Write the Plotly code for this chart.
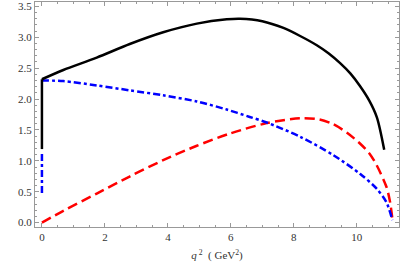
import plotly.graph_objects as go

# black solid curve (q^2, value); vertical piece at q^2 = 0 listed separately
black_vert_q2 = [0.0, 0.0]
black_vert_val = [1.19, 2.32]
black_q2 = [0.0, 0.68, 1.74, 2.79, 3.85, 4.92, 5.87, 6.29, 7.0, 7.67, 8.2, 8.73, 9.1, 9.47, 9.8, 10.1, 10.4, 10.64, 10.87]
black_val = [2.32, 2.47, 2.67, 2.89, 3.08, 3.22, 3.29, 3.30, 3.26, 3.15, 3.02, 2.87, 2.74, 2.58, 2.41, 2.21, 1.97, 1.70, 1.18]

# blue dash-dot curve; short vertical piece at q^2 = 0 listed separately
blue_vert_q2 = [0.0, 0.0]
blue_vert_val = [0.48, 1.16]
blue_q2 = [0.0, 0.68, 1.74, 2.79, 3.85, 4.92, 5.87, 6.6, 7.14, 8.2, 9.26, 10.1, 10.63, 10.94, 11.13]
blue_val = [2.30, 2.29, 2.22, 2.14, 2.06, 1.96, 1.83, 1.71, 1.62, 1.39, 1.09, 0.79, 0.55, 0.33, 0.04]

# red dashed curve
red_q2 = [0.0, 0.68, 1.74, 2.8, 3.85, 4.9, 5.96, 7.14, 8.2, 8.8, 9.26, 9.7, 10.1, 10.4, 10.63, 10.94, 11.05, 11.13]
red_val = [0.0, 0.19, 0.47, 0.75, 1.01, 1.24, 1.44, 1.61, 1.69, 1.67, 1.59, 1.45, 1.28, 1.12, 0.93, 0.58, 0.35, 0.06]

x_ticks = [0, 2, 4, 6, 8, 10]
y_ticks = [0.0, 0.5, 1.0, 1.5, 2.0, 2.5, 3.0, 3.5]

SERIF = "Liberation Serif, Times New Roman, serif"

fig = go.Figure()
red_line = dict(color="#ff0000", width=2.5, dash="10px,5px", shape="spline", smoothing=0.8)
blue_line = dict(color="#0000ff", width=2.5, dash="7px,3px,3px,3px", shape="spline", smoothing=0.8)
blue_line_v = dict(color="#0000ff", width=2.5, dash="7px,3px,3px,3px")
black_line = dict(color="#000000", width=2.5, shape="spline", smoothing=0.8)
black_line_v = dict(color="#000000", width=2.5)
fig.add_trace(go.Scatter(x=red_q2, y=red_val, mode="lines", line=red_line))
fig.add_trace(go.Scatter(x=blue_q2, y=blue_val, mode="lines", line=blue_line))
fig.add_trace(go.Scatter(x=blue_vert_q2, y=blue_vert_val, mode="lines", line=blue_line_v))
fig.add_trace(go.Scatter(x=black_q2, y=black_val, mode="lines", line=black_line))
fig.add_trace(go.Scatter(x=black_vert_q2, y=black_vert_val, mode="lines", line=black_line_v))

axis_common = dict(
    showgrid=False, zeroline=False, showline=True, linecolor="#999999", linewidth=1,
    mirror="allticks", ticks="inside", ticklen=4, tickcolor="#999999", tickwidth=1,
    tickfont=dict(family=SERIF, size=11, color="#333333"),
    automargin=False,
)

fig.update_layout(
    width=400, height=264,
    margin=dict(l=35, r=1, t=2, b=37),
    paper_bgcolor="white", plot_bgcolor="white",
    showlegend=False,
    xaxis=dict(range=[-0.22, 11.34], tickvals=x_ticks, ticktext=[str(v) for v in x_ticks],
               minor=dict(dtick=0.5, ticks="inside", ticklen=2, tickcolor="#999999"),
               title=dict(text="<i>q</i><sup> 2</sup>  ( GeV<sup>2</sup>)", font=dict(family=SERIF, size=11, color="#333333"), standoff=9),
               **axis_common),
    yaxis=dict(range=[-0.071, 3.57], tickvals=y_ticks, ticktext=[f"{v:.1f}" for v in y_ticks],
               minor=dict(dtick=0.1, ticks="inside", ticklen=2, tickcolor="#999999"),
               **axis_common),
)

fig.write_html("out.html", config={"displayModeBar": False},
               post_script="document.body.style.margin='0';document.body.style.overflow='hidden';")
